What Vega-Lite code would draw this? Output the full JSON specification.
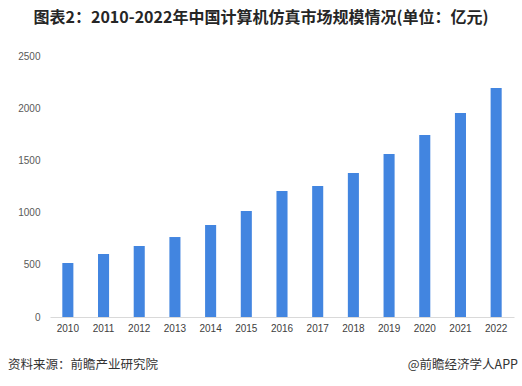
{
  "$schema": "https://vega.github.io/schema/vega-lite/v6.json",
  "width": 464,
  "height": 261,
  "autosize": {"type": "none"},
  "padding": {"left": 50, "top": 56, "right": 8, "bottom": 69},
  "background": "white",
  "config": {"view": {"stroke": null}, "font": "Noto Sans CJK SC"},
  "title": {
    "text": "图表2：2010-2022年中国计算机仿真市场规模情况(单位：亿元)",
    "fontSize": 16,
    "fontWeight": "bold",
    "color": "#262626",
    "anchor": "middle",
    "frame": "group",
    "dx": -21,
    "offset": 25
  },
  "layer": [
    {
      "data": {
        "values": [
          {"year": "2010", "value": 517},
          {"year": "2011", "value": 603},
          {"year": "2012", "value": 680},
          {"year": "2013", "value": 766},
          {"year": "2014", "value": 881},
          {"year": "2015", "value": 1015},
          {"year": "2016", "value": 1207},
          {"year": "2017", "value": 1255},
          {"year": "2018", "value": 1379},
          {"year": "2019", "value": 1561},
          {"year": "2020", "value": 1743},
          {"year": "2021", "value": 1954},
          {"year": "2022", "value": 2193}
        ]
      },
      "mark": {"type": "bar", "color": "#4285e0"},
      "encoding": {
        "x": {
          "field": "year",
          "type": "ordinal",
          "scale": {"paddingInner": 0.69, "paddingOuter": 0.345},
          "axis": {
            "title": null,
            "labelAngle": 0,
            "labelColor": "#404040",
            "labelFontSize": 10,
            "labelFont": "Liberation Sans",
            "labelPadding": 6,
            "ticks": false,
            "domainColor": "#d9d9d9",
            "grid": false
          }
        },
        "y": {
          "field": "value",
          "type": "quantitative",
          "scale": {"domain": [0, 2500]},
          "axis": {
            "title": null,
            "values": [0, 500, 1000, 1500, 2000, 2500],
            "format": "d",
            "labelColor": "#595959",
            "labelFontSize": 10,
            "labelFont": "Liberation Sans",
            "labelPadding": 10,
            "ticks": false,
            "domain": false,
            "grid": false
          }
        }
      }
    },
    {
      "data": {"values": [{"t": "资料来源：前瞻产业研究院"}]},
      "mark": {"type": "text", "align": "left", "baseline": "middle", "fontSize": 12.5, "color": "#333333"},
      "encoding": {"text": {"field": "t"}, "x": {"value": -42}, "y": {"value": 309}}
    },
    {
      "data": {"values": [{"t": "@前瞻经济学人APP"}]},
      "mark": {"type": "text", "align": "right", "baseline": "middle", "fontSize": 12.5, "color": "#333333"},
      "encoding": {"text": {"field": "t"}, "x": {"value": 468}, "y": {"value": 309}}
    }
  ]
}
